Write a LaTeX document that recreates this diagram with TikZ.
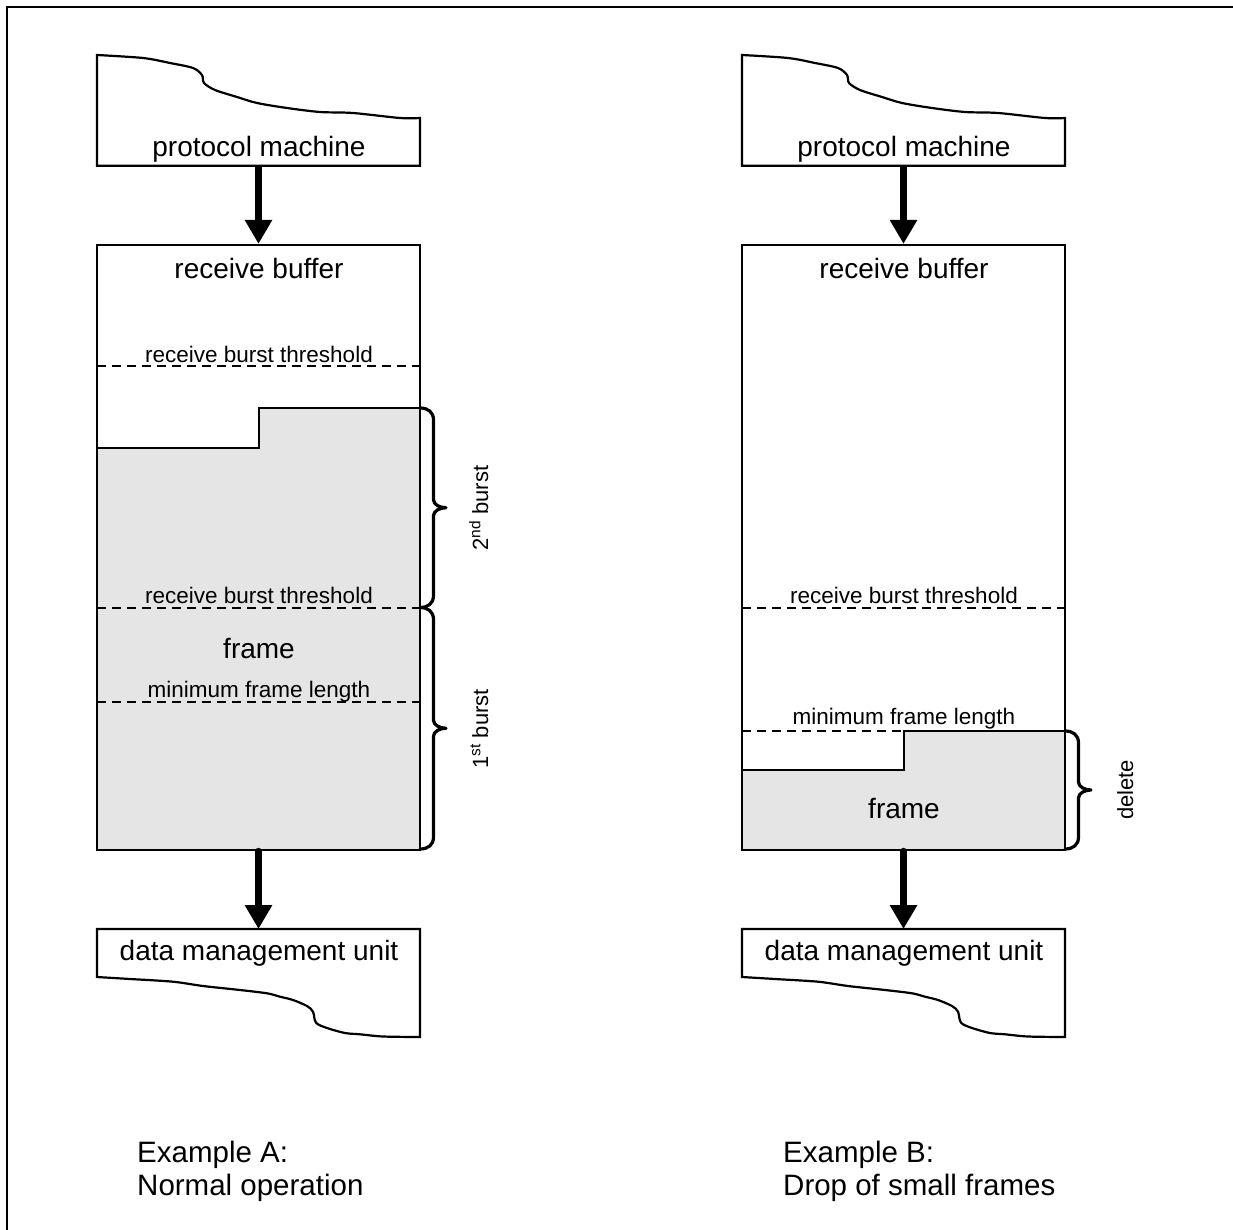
\documentclass[tikz,border=0pt]{standalone}
\usepackage{fontspec}
\setmainfont{Liberation Sans}
\usetikzlibrary{arrows.meta}
\definecolor{fillgray}{HTML}{E5E5E5}
\newcommand{\mybrace}[3]{%
 \pgfmathsetmacro\bracemid{(#2+#3)/2}%
 \draw[bracestyle] (#1,#2) .. controls ({#1+8},#2) and ({#1+13.5},{#2+4}) .. ({#1+13.5},{#2+12})
  -- ({#1+13.5},{\bracemid-8}) .. controls ({#1+13.5},{\bracemid-3}) and ({#1+20},\bracemid) .. ({#1+26},\bracemid)
  .. controls ({#1+20},\bracemid) and ({#1+13.5},{\bracemid+3}) .. ({#1+13.5},{\bracemid+8})
  -- ({#1+13.5},{#3-12}) .. controls ({#1+13.5},{#3-4}) and ({#1+8},#3) .. (#1,#3);}
\begin{document}
\begin{tikzpicture}[x=1pt,y=-1pt,
  box/.style={draw, line width=2.2pt, rectangle, minimum width=323pt, inner sep=0pt},
  edgeline/.style={line width=2.2pt, line join=miter},
  thresh/.style={line width=2pt, dash pattern=on 9pt off 6pt},
  bigarrow/.style={line width=6.5pt, -{Triangle[width=26pt,length=24pt]}},
  bracestyle/.style={line width=3.2pt, line cap=round, line join=round},
  bigtext/.style={font=\fontsize{28}{33}\selectfont, anchor=base, inner sep=0pt},
  smalltext/.style={font=\fontsize{22.5}{27}\selectfont, anchor=base, inner sep=0pt},
  captiontext/.style={font=\fontsize{29.5}{33}\selectfont, anchor=base west, inner sep=0pt},
  sidelabel/.style={font=\fontsize{22}{26}\selectfont, anchor=base, rotate=90, inner sep=0pt},
]
\fill[white] (0,0) rectangle (1233,1230);
\useasboundingbox (0,0) rectangle (1233,1230);
\draw[line width=2pt] (6.7,1230) -- (6.7,6.7) -- (1233,6.7);

% ================= Example A =================
% protocol machine
\draw[edgeline] (97,165.7) -- (97,55) -- plot[smooth, tension=0.5] coordinates {(97,55) (143,58) (170,63) (193,68) (202,75) (204,83) (215,90) (237,97) (257,103) (287,108) (320,112) (353,113) (400,118) (420,118)} -- (420,165.7) -- cycle;
\node[bigtext] (pmAtext) at (259,157) {protocol machine};
\coordinate (pmA) at (258.5,165.7);

% receive buffer
\fill[fillgray] (97,448) -- (259,448) -- (259,408) -- (420,408) -- (420,850) -- (97,850) -- cycle;
\draw[thresh] (97,366) -- (420,366);
\draw[thresh] (97,607.5) -- (420,607.5);
\draw[thresh] (97,702) -- (420,702);
\node[box, minimum height=605pt] (rbA) at (258.5,547.5) {};
\draw[edgeline] (97,448) -- (259,448) -- (259,408) -- (420,408);
\node[bigtext] (rbAtext) at (259,279) {receive buffer};
\node[smalltext] (thA1) at (259,362) {receive burst threshold};
\node[smalltext] (thA2) at (259,603) {receive burst threshold};
\node[bigtext] (frA) at (259,658) {frame};
\node[smalltext] (mfA) at (259,697) {minimum frame length};

\mybrace{420}{408}{607.5}
\mybrace{420}{607.5}{849}
\node[sidelabel] (b2) at (488,508) {2\textsuperscript{nd} burst};
\node[sidelabel] (b1) at (488,729) {1\textsuperscript{st} burst};

% data management unit
\draw[edgeline] (97,929) -- (420,929) -- (420,1037) -- plot[smooth, tension=0.5] coordinates {(420,1037) (383,1036.5) (360,1034.3) (345,1033) (327,1028) (316,1022.7) (313,1011.7) (307,1006) (293,1000) (280,996.7) (267,993.3) (240,990) (203,986) (173,981.7) (130,979) (97,977)} -- cycle;
\node[bigtext] (dmAtext) at (259,960) {data management unit};
\coordinate (dmA) at (258.5,929);

\draw[bigarrow] (pmA) -- (rbA.north);
\draw[bigarrow, line cap=round] (rbA.south) -- (dmA);

\node[captiontext] (capA1) at (137,1162) {Example A:};
\node[captiontext] (capA2) at (137,1195) {Normal operation};

% ================= Example B =================
\begin{scope}[xshift=645pt]
\draw[edgeline] (97,165.7) -- (97,55) -- plot[smooth, tension=0.5] coordinates {(97,55) (143,58) (170,63) (193,68) (202,75) (204,83) (215,90) (237,97) (257,103) (287,108) (320,112) (353,113) (400,118) (420,118)} -- (420,165.7) -- cycle;
\node[bigtext] (pmBtext) at (259,157) {protocol machine};
\coordinate (pmB) at (258.5,165.7);

\fill[fillgray] (97,770) -- (259,770) -- (259,731) -- (420,731) -- (420,850) -- (97,850) -- cycle;
\draw[thresh] (97,607.5) -- (420,607.5);
\draw[thresh] (97,731) -- (259,731);
\node[box, minimum height=605pt] (rbB) at (258.5,547.5) {};
\draw[edgeline] (97,770) -- (259,770) -- (259,731) -- (420,731);
\node[bigtext] (rbBtext) at (259,279) {receive buffer};
\node[smalltext] (thB) at (259,603) {receive burst threshold};
\node[smalltext] (mfB) at (259,724) {minimum frame length};
\node[bigtext] (frB) at (259,818) {frame};

\mybrace{420}{731}{849}
\node[sidelabel] (del) at (488,790) {delete};

\draw[edgeline] (97,929) -- (420,929) -- (420,1037) -- plot[smooth, tension=0.5] coordinates {(420,1037) (383,1036.5) (360,1034.3) (345,1033) (327,1028) (316,1022.7) (313,1011.7) (307,1006) (293,1000) (280,996.7) (267,993.3) (240,990) (203,986) (173,981.7) (130,979) (97,977)} -- cycle;
\node[bigtext] (dmBtext) at (259,960) {data management unit};
\coordinate (dmB) at (258.5,929);

\draw[bigarrow] (pmB) -- (rbB.north);
\draw[bigarrow, line cap=round] (rbB.south) -- (dmB);

\node[captiontext] (capB1) at (138,1162) {Example B:};
\node[captiontext] (capB2) at (138,1195) {Drop of small frames};
\end{scope}
\end{tikzpicture}
\end{document}
